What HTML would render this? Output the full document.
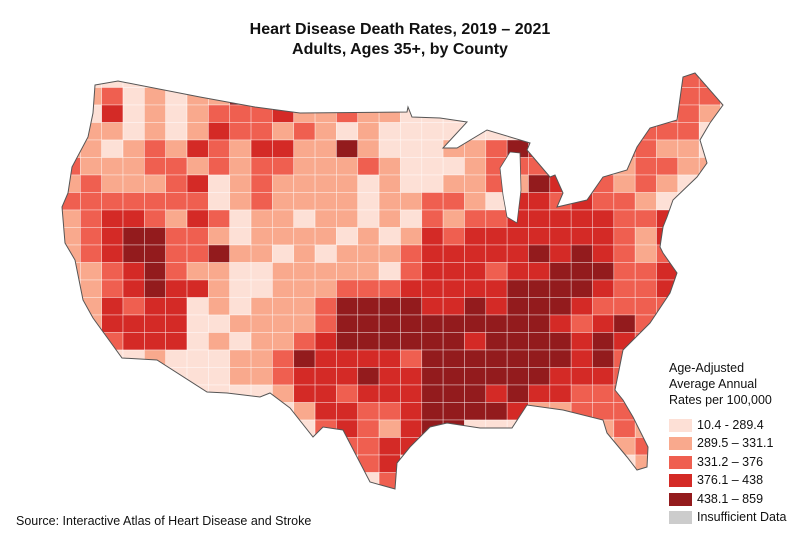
<!DOCTYPE html>
<html><head><meta charset="utf-8"><style>
html,body{margin:0;padding:0;background:#fff;}
body{width:800px;height:549px;position:relative;overflow:hidden;font-family:"Liberation Sans",sans-serif;}
.t{position:absolute;left:0;width:800px;text-align:center;font-weight:bold;font-size:16px;color:#111;}
.leg{position:absolute;font-size:12.5px;color:#111;}
.sw{position:absolute;left:669px;width:23px;height:13px;}
.lb{position:absolute;left:697px;font-size:12.5px;color:#111;}
</style></head><body>
<div class="t" style="top:21px">Heart Disease Death Rates, 2019 – 2021</div>
<div class="t" style="top:41px">Adults, Ages 35+, by County</div>
<svg id="map" width="800" height="549" style="position:absolute;left:0;top:0">
<defs><clipPath id="us"><path id="outlinePath" d="M95,85 L118,81 L200,97 L255,107 L300,113 L407,112 L408,107 L412,117 L440,118 L467,122 L443,148 L457,148 L487,130 L530,143 L527,150 L550,177 L555,175 L563,193 L557,207 L587,200 L603,177 L627,170 L637,147 L650,128 L677,120 L683,77 L695,73 L723,105 L710,123 L700,140 L707,163 L697,177 L673,200 L667,217 L663,227 L660,247 L663,253 L677,273 L670,293 L650,323 L623,350 L615,390 L623,400 L633,417 L648,447 L647,467 L637,470 L627,457 L607,433 L603,420 L563,410 L527,405 L512,428 L480,428 L447,423 L430,427 L410,447 L397,463 L395,489 L370,482 L343,430 L323,427 L313,437 L290,408 L270,393 L260,397 L227,393 L207,392 L157,360 L122,358 L93,318 L83,300 L75,260 L65,243 L62,207 L68,193 L72,167 L88,137 L93,113 Z"/></clipPath></defs>
<g id="cells" clip-path="url(#us)"></g>
<path d="M500,168 L510,152 L520,153 L521,190 L517,223 L507,217 L503,195 Z" fill="#fff" stroke="#555" stroke-width="0.8"/>
<use href="#outlinePath" fill="none" stroke="#555" stroke-width="1"/>
</svg>
<div class="leg" style="left:669px;top:360px;line-height:16px">Age-Adjusted<br>Average Annual<br>Rates per 100,000</div>
<div class="sw" style="top:419px;background:#fde0d6"></div><div class="lb" style="top:418px">10.4 - 289.4</div>
<div class="sw" style="top:437px;background:#f9a98d"></div><div class="lb" style="top:436px">289.5 – 331.1</div>
<div class="sw" style="top:456px;background:#ef5f50"></div><div class="lb" style="top:455px">331.2 – 376</div>
<div class="sw" style="top:474px;background:#d42a26"></div><div class="lb" style="top:473px">376.1 – 438</div>
<div class="sw" style="top:493px;background:#931b1d"></div><div class="lb" style="top:492px">438.1 – 859</div>
<div class="sw" style="top:511px;background:#cccccc"></div><div class="lb" style="top:510px">Insufficient Data</div>
<div class="leg" style="left:16px;top:514px;font-size:12.5px">Source: Interactive Atlas of Heart Disease and Stroke</div>
<script>
const classColors = ["#fde0d6","#f9a98d","#ef5f50","#d42a26","#931b1d"];
const gridRows = [
"00000000000000000000000000000221",
"01201011443214101000000000001221",
"20301012223112110000000000012210",
"21101013221210100000000000122200",
"11012132133114100011243211221100",
"21112212122111210001222431122110",
"12111230121111010011214312121000",
"22222220121111011221033232210000",
"12332132011011010212233333223000",
"12344221011110101323333333213000",
"12344224110101112333334343212000",
"11234211001111102333233444223000",
"11234331001112223333344443223000",
"01323301011124444334344432222000",
"01333300111124444444444323420000",
"01233301011234444443444434320000",
"00001000112433332444444434200000",
"00000000112333433444444333200000",
"00000000001332333444343322200000",
"00000000000133223444431122200000",
"00000000000023213440000001210000",
"00000000000002233000000000120000",
"00000000000000230000000000010000",
"00000000000000020000000000000000"
];
const cellW = 21.34, cellH = 17.5, x0 = 59, y0 = 70;
const g = document.getElementById('cells');
const NS = 'http://www.w3.org/2000/svg';
gridRows.forEach((row, r) => {
  for (let c = 0; c < row.length; c++) {
    const v = +row[c];
    const rect = document.createElementNS(NS, 'rect');
    rect.setAttribute('x', x0 + c * cellW);
    rect.setAttribute('y', y0 + r * cellH);
    rect.setAttribute('width', cellW);
    rect.setAttribute('height', cellH);
    rect.setAttribute('fill', classColors[v]);
    rect.setAttribute('stroke', '#ffffff');
    rect.setAttribute('stroke-opacity', '0.6');
    rect.setAttribute('stroke-width', '0.6');
    
    
    g.appendChild(rect);
  }
});
</script>
</body></html>
